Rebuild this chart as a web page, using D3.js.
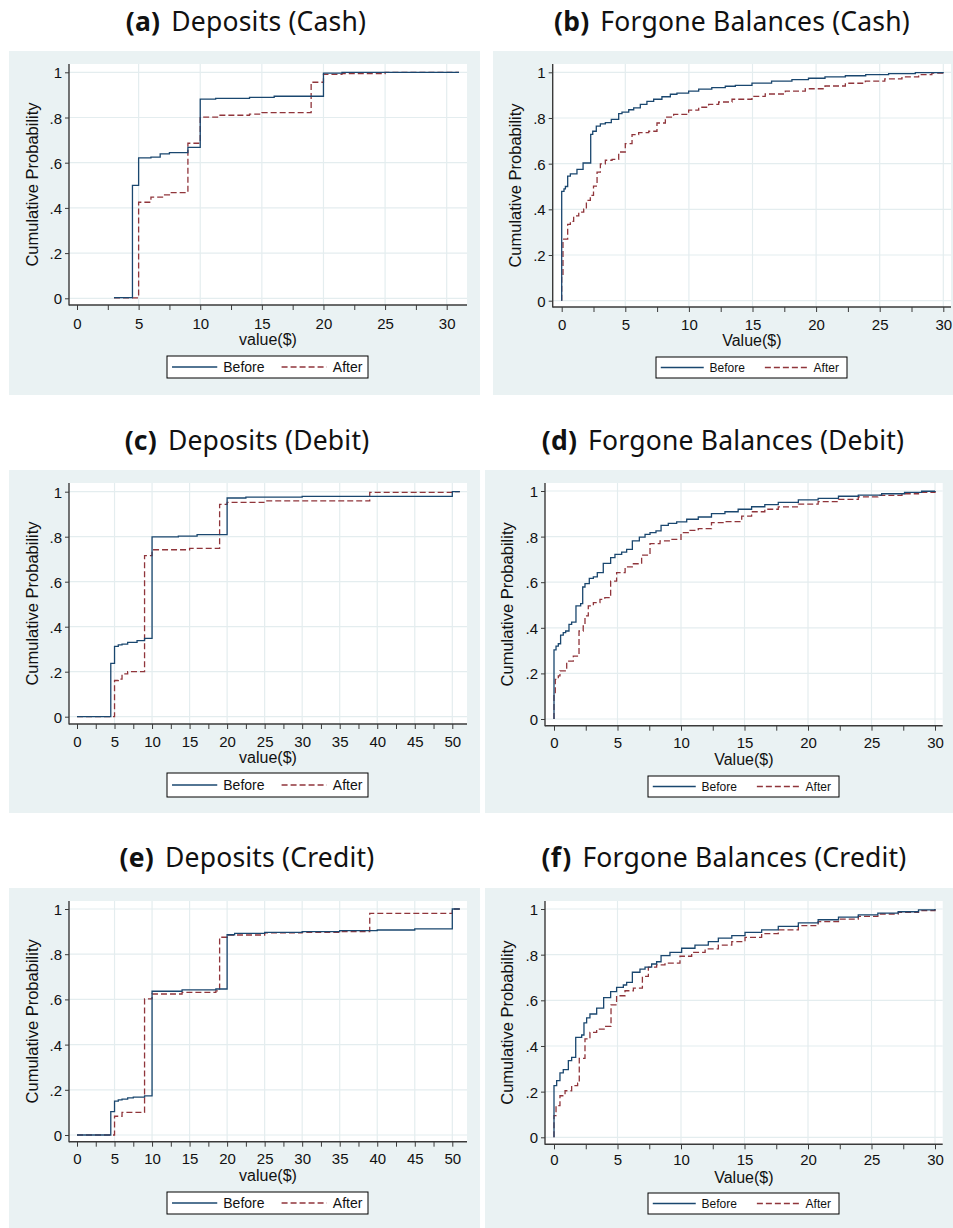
<!DOCTYPE html>
<html>
<head>
<meta charset="utf-8">
<script src="https://cdn.jsdelivr.net/npm/d3@7"></script>
<style>
  html, body { margin: 0; padding: 0; background: #ffffff; }
  svg { display: block; }
</style>
</head>
<body>
<svg id="chart" width="953" height="1228"></svg>
<script>
// ---------------- DATA ----------------
const xTicks30 = [0, 5, 10, 15, 20, 25, 30];
const xTicks50 = [0, 5, 10, 15, 20, 25, 30, 35, 40, 45, 50];
const yTicks = [0, 0.2, 0.4, 0.6, 0.8, 1];
const yTickLabels = ["0", ".2", ".4", ".6", ".8", "1"];
const seriesNames = ["Before", "After"];

// (a) Deposits (Cash)
const depCashBeforeX = [3, 4.5, 5, 6, 6.75, 7.5, 9, 10, 11.25, 14, 16, 20, 21.5, 31];
const depCashBeforeP = [0.003, 0.50, 0.621, 0.625, 0.639, 0.645, 0.668, 0.881, 0.885, 0.889, 0.894, 0.996, 1.0, 1.0];
const depCashAfterX = [3, 5, 6, 7, 7.5, 9, 10, 11.5, 14, 15, 19, 20, 21.5, 25, 31];
const depCashAfterP = [0.002, 0.425, 0.448, 0.458, 0.468, 0.686, 0.802, 0.81, 0.815, 0.822, 0.956, 0.991, 0.994, 1.0, 1.0];

// (b) Forgone Balances (Cash)
const fbCashBeforeX = [0, 0, 0.18, 0.29, 0.47, 0.68, 1.2, 1.68, 2.28, 2.44, 2.72, 3.04, 3.43, 3.9, 4.48, 4.74, 5.27, 5.66, 6.18, 6.7, 7.23, 7.88, 8.54, 9.06, 9.98, 10.77, 11.8, 12.86, 13.65, 14.96, 16.5, 18.1, 19.4, 20.7, 22.3, 23.9, 25.7, 27.8, 30];
const fbCashBeforeP = [0, 0.479, 0.49, 0.50, 0.545, 0.555, 0.575, 0.603, 0.728, 0.742, 0.764, 0.774, 0.780, 0.794, 0.819, 0.826, 0.836, 0.844, 0.860, 0.873, 0.882, 0.893, 0.904, 0.909, 0.918, 0.926, 0.933, 0.939, 0.943, 0.953, 0.961, 0.968, 0.974, 0.980, 0.985, 0.990, 0.994, 0.999, 1.0];
const fbCashAfterX = [0, 0, 0.1, 0.47, 0.68, 0.94, 1.34, 1.73, 1.94, 2.25, 2.5, 2.78, 3.04, 3.43, 3.96, 4.48, 5.0, 5.53, 6.05, 6.84, 7.49, 8.15, 8.8, 9.98, 10.77, 11.55, 12.34, 13.39, 14.96, 16, 17.58, 19.15, 20.7, 22.3, 23.87, 25.4, 26.75, 28.06, 29.1, 30];
const fbCashAfterP = [0, 0.11, 0.27, 0.334, 0.347, 0.371, 0.388, 0.401, 0.439, 0.461, 0.502, 0.563, 0.599, 0.615, 0.619, 0.651, 0.688, 0.727, 0.736, 0.742, 0.778, 0.804, 0.816, 0.834, 0.847, 0.860, 0.870, 0.882, 0.895, 0.905, 0.918, 0.928, 0.94, 0.952, 0.961, 0.971, 0.980, 0.990, 0.996, 1.0];

// (c) Deposits (Debit)
const depDebitBeforeX = [0, 4.5, 5, 5.5, 6, 6.75, 8, 9, 10, 13.5, 16, 20, 22.5, 30, 50, 51];
const depDebitBeforeP = [0, 0.237, 0.313, 0.319, 0.323, 0.330, 0.338, 0.348, 0.799, 0.803, 0.809, 0.972, 0.976, 0.979, 1.0, 1.0];
const depDebitAfterX = [0, 5, 5.5, 6, 6.75, 9, 10, 15, 19, 20, 25, 39, 50, 51];
const depDebitAfterP = [0, 0.161, 0.167, 0.19, 0.20, 0.716, 0.742, 0.748, 0.944, 0.953, 0.959, 0.997, 1.0, 1.0];

// (d) Forgone Balances (Debit)
const fbDebitBeforeX = [0, 0, 0.16, 0.34, 0.52, 0.73, 0.92, 1.18, 1.39, 1.73, 2.1, 2.26, 2.44, 2.78, 3.1, 3.41, 3.88, 4.46, 4.8, 5.33, 5.72, 6.17, 6.72, 7.17, 7.56, 8.03, 8.43, 9.0, 9.66, 10.45, 11.36, 12.4, 13.46, 14.5, 15.56, 16.6, 17.66, 19.24, 20.8, 22.4, 23.96, 25.8, 27.6, 28.95, 30];
const fbDebitBeforeP = [0, 0.303, 0.32, 0.33, 0.368, 0.379, 0.386, 0.415, 0.425, 0.496, 0.506, 0.579, 0.594, 0.617, 0.623, 0.642, 0.683, 0.708, 0.722, 0.732, 0.744, 0.781, 0.798, 0.810, 0.817, 0.825, 0.849, 0.858, 0.865, 0.876, 0.886, 0.901, 0.909, 0.92, 0.931, 0.94, 0.950, 0.961, 0.968, 0.977, 0.982, 0.988, 0.994, 0.999, 1.0];
const fbDebitAfterX = [0, 0, 0.1, 0.34, 0.47, 1.0, 1.52, 1.97, 2.3, 2.44, 2.7, 3.1, 3.62, 4.0, 4.46, 4.93, 5.6, 6.25, 6.9, 7.56, 8.35, 9.13, 10.0, 10.58, 11.36, 12.4, 13.46, 14.78, 15.56, 16.6, 17.66, 19.24, 20.8, 22.4, 23.96, 25.5, 27.4, 28.7, 30];
const fbDebitAfterP = [0, 0.11, 0.174, 0.189, 0.211, 0.254, 0.276, 0.386, 0.408, 0.452, 0.496, 0.51, 0.525, 0.532, 0.605, 0.642, 0.667, 0.681, 0.719, 0.769, 0.781, 0.788, 0.817, 0.827, 0.835, 0.861, 0.866, 0.890, 0.909, 0.92, 0.93, 0.942, 0.953, 0.963, 0.974, 0.981, 0.988, 0.994, 1.0];

// (e) Deposits (Credit)
const depCreditBeforeX = [0, 4.5, 5, 5.5, 6, 6.75, 7.5, 9, 10, 14, 18.5, 20, 21, 25, 30, 35, 40, 45, 50, 51];
const depCreditBeforeP = [0, 0.103, 0.150, 0.155, 0.159, 0.164, 0.168, 0.173, 0.636, 0.642, 0.646, 0.886, 0.892, 0.897, 0.900, 0.904, 0.907, 0.912, 1.0, 1.0];
const depCreditAfterX = [0, 5, 6, 9, 10, 14, 18.5, 19, 20, 25, 30, 35, 39, 50, 51];
const depCreditAfterP = [0, 0.083, 0.100, 0.602, 0.624, 0.631, 0.638, 0.875, 0.885, 0.894, 0.897, 0.900, 0.981, 1.0, 1.0];

// (f) Forgone Balances (Credit)
const fbCreditBeforeX = [0, 0, 0.21, 0.47, 0.73, 1.13, 1.39, 1.71, 2.18, 2.36, 2.57, 2.83, 3.36, 3.91, 4.46, 4.93, 5.46, 5.72, 6.17, 6.77, 7.17, 7.69, 8.08, 8.43, 9.13, 10.05, 11.1, 12.15, 12.94, 14, 15.04, 16.35, 17.66, 19.24, 20.8, 22.4, 23.96, 25.5, 27.1, 28.7, 30];
const fbCreditBeforeP = [0, 0.226, 0.248, 0.282, 0.296, 0.336, 0.350, 0.438, 0.448, 0.501, 0.523, 0.540, 0.566, 0.612, 0.638, 0.657, 0.667, 0.679, 0.723, 0.737, 0.745, 0.759, 0.769, 0.796, 0.810, 0.828, 0.842, 0.857, 0.872, 0.883, 0.898, 0.909, 0.924, 0.939, 0.953, 0.964, 0.974, 0.982, 0.988, 0.996, 1.0];
const fbCreditAfterX = [0, 0, 0.16, 0.47, 0.87, 1.39, 1.86, 1.99, 2.44, 2.83, 3.36, 4.0, 4.49, 4.93, 5.59, 6.25, 6.96, 7.43, 8.08, 8.74, 9.92, 10.84, 11.9, 12.94, 14, 15.04, 16.35, 17.66, 19.24, 20.8, 22.4, 23.96, 25.5, 27.1, 28.7, 30];
const fbCreditAfterP = [0, 0.095, 0.139, 0.182, 0.204, 0.226, 0.238, 0.346, 0.431, 0.460, 0.474, 0.486, 0.580, 0.620, 0.642, 0.653, 0.705, 0.745, 0.755, 0.763, 0.793, 0.810, 0.825, 0.842, 0.857, 0.876, 0.892, 0.909, 0.927, 0.945, 0.956, 0.968, 0.978, 0.985, 0.993, 1.0];

// ---------------- LAYOUT / STYLE ----------------
const COLORS = { bg: "#eaf2f3", grid: "#e4edef", axis: "#3a3a3a", before: "#1a476f", after: "#90353b" };
const TICK_FONT = "'Liberation Sans', Arial, sans-serif";
const TITLE_FONT = "'Noto Sans', 'Open Sans', sans-serif";

const panels = [
  { tag: "(a)", title: "Deposits (Cash)", xlabel: "value($)", ticks: xTicks30,
    bg: [9, 51, 480, 395], plot: [69, 64, 467, 305], xr: [77, 446.7], yr: [298.3, 72.3],
    titleX: 246, titleY: 31, ylabX: 32, xlabY: 339, tickY: 323,
    legend: [167, 356, 368, 378], legFont: 14,
    before: [depCashBeforeX, depCashBeforeP], after: [depCashAfterX, depCashAfterP] },
  { tag: "(b)", title: "Forgone Balances (Cash)", xlabel: "Value($)", ticks: xTicks30,
    bg: [493, 51, 953, 395], plot: [552.7, 64, 951, 307], xr: [561.7, 943.3], yr: [300.7, 72.3],
    titleX: 732, titleY: 31, ylabX: 515, xlabY: 340, tickY: 324,
    legend: [656, 357, 847, 378], legFont: 12,
    before: [fbCashBeforeX, fbCashBeforeP], after: [fbCashAfterX, fbCashAfterP] },
  { tag: "(c)", title: "Deposits (Debit)", xlabel: "value($)", ticks: xTicks50,
    bg: [9, 470, 480, 813], plot: [69, 483, 467, 724], xr: [77, 452.3], yr: [716.7, 491.7],
    titleX: 247, titleY: 450, ylabX: 32, xlabY: 757, tickY: 741,
    legend: [167, 773, 368, 797], legFont: 14,
    before: [depDebitBeforeX, depDebitBeforeP], after: [depDebitAfterX, depDebitAfterP] },
  { tag: "(d)", title: "Forgone Balances (Debit)", xlabel: "Value($)", ticks: xTicks30,
    bg: [485, 470, 953, 813], plot: [545, 483, 942.7, 725.7], xr: [554, 935], yr: [719, 491],
    titleX: 723, titleY: 450, ylabX: 507, xlabY: 759, tickY: 742,
    legend: [648, 776, 839, 797], legFont: 12,
    before: [fbDebitBeforeX, fbDebitBeforeP], after: [fbDebitAfterX, fbDebitAfterP] },
  { tag: "(e)", title: "Deposits (Credit)", xlabel: "value($)", ticks: xTicks50,
    bg: [9, 888, 480, 1228], plot: [69, 901, 467, 1141.7], xr: [77, 452.3], yr: [1135, 909],
    titleX: 247, titleY: 867, ylabX: 32, xlabY: 1175, tickY: 1158.5,
    legend: [167, 1192, 368, 1214], legFont: 14,
    before: [depCreditBeforeX, depCreditBeforeP], after: [depCreditAfterX, depCreditAfterP] },
  { tag: "(f)", title: "Forgone Balances (Credit)", xlabel: "Value($)", ticks: xTicks30,
    bg: [485, 888, 953, 1228], plot: [545, 901, 942.7, 1144.3], xr: [554, 935], yr: [1137.3, 909],
    titleX: 724, titleY: 867, ylabX: 507, xlabY: 1177, tickY: 1159.5,
    legend: [648, 1193, 839, 1214], legFont: 12,
    before: [fbCreditBeforeX, fbCreditBeforeP], after: [fbCreditAfterX, fbCreditAfterP] }
];

const svg = d3.select("#chart");

panels.forEach(p => {
  const g = svg.append("g");
  const [bx0, by0, bx1, by1] = p.bg;
  const [pl, pt, pr, pb] = p.plot;
  const xMax = p.ticks[p.ticks.length - 1];
  const x = d3.scaleLinear().domain([0, xMax]).range(p.xr);
  const y = d3.scaleLinear().domain([0, 1]).range(p.yr);

  // title
  const t = g.append("text")
    .attr("x", p.titleX).attr("y", p.titleY)
    .attr("text-anchor", "middle")
    .style("font-family", TITLE_FONT).style("font-size", "26.5px").style("fill", "#111")
    .style("letter-spacing", "0.2px");
  t.append("tspan").style("font-weight", "bold").text(p.tag);
  t.append("tspan").attr("dx", 11).text(p.title);

  // backgrounds
  g.append("rect").attr("x", bx0).attr("y", by0).attr("width", bx1 - bx0).attr("height", by1 - by0)
    .attr("fill", COLORS.bg);
  g.append("rect").attr("x", pl).attr("y", pt).attr("width", pr - pl).attr("height", pb - pt)
    .attr("fill", "#ffffff");

  // grid
  const majors = p.ticks;
  g.append("g").selectAll("line.hg").data(yTicks).join("line")
    .attr("x1", pl).attr("x2", pr).attr("y1", d => y(d)).attr("y2", d => y(d))
    .attr("stroke", COLORS.grid).attr("stroke-width", 1.2);
  g.append("g").selectAll("line.vg").data(majors.filter(d => d > 0)).join("line")
    .attr("x1", d => x(d)).attr("x2", d => x(d)).attr("y1", pt).attr("y2", pb)
    .attr("stroke", COLORS.grid).attr("stroke-width", 1.2);

  // x axis (ticks every 2.5, labels every 5)
  const minorTicks = d3.range(0, xMax + 0.001, 2.5);
  const xAxis = d3.axisBottom(x).tickValues(minorTicks).tickSize(5).tickPadding(3)
    .tickFormat(d => (d % 5 === 0 ? d3.format("d")(d) : ""));
  const xg = g.append("g").attr("transform", `translate(0,${pb})`).call(xAxis);
  xg.select(".domain").remove();
  xg.selectAll(".tick line").attr("stroke", COLORS.axis).attr("stroke-width", 1);
  xg.selectAll(".tick text").attr("y", null).attr("dy", null)
    .attr("transform", `translate(0,${p.tickY - pb})`)
    .attr("dominant-baseline", "central")
    .style("font-family", TICK_FONT).style("font-size", "15px").style("fill", "#111");

  // y axis
  const yAxis = d3.axisLeft(y).tickValues(yTicks).tickSize(4).tickPadding(3)
    .tickFormat((d, i) => yTickLabels[i]);
  const yg = g.append("g").attr("transform", `translate(${pl},0)`).call(yAxis);
  yg.select(".domain").remove();
  yg.selectAll(".tick line").attr("stroke", COLORS.axis).attr("stroke-width", 1);
  yg.selectAll(".tick text").attr("dy", null).attr("dominant-baseline", "central")
    .style("font-family", TICK_FONT).style("font-size", "15px").style("fill", "#111");

  // axis lines
  g.append("line").attr("x1", pl).attr("x2", pl).attr("y1", pt).attr("y2", pb + 0.5)
    .attr("stroke", COLORS.axis).attr("stroke-width", 1.4);
  g.append("line").attr("x1", pl).attr("x2", pr).attr("y1", pb).attr("y2", pb)
    .attr("stroke", COLORS.axis).attr("stroke-width", 1.4);

  // axis titles
  g.append("text").attr("x", (pl + pr) / 2).attr("y", p.xlabY)
    .attr("text-anchor", "middle").attr("dominant-baseline", "central")
    .style("font-family", TICK_FONT).style("font-size", "16px").style("fill", "#111")
    .text(p.xlabel);
  g.append("text")
    .attr("transform", `translate(${p.ylabX},${(pt + pb) / 2}) rotate(-90)`)
    .attr("text-anchor", "middle").attr("dominant-baseline", "central")
    .style("font-family", TICK_FONT).style("font-size", "16.5px").style("fill", "#111")
    .text("Cumulative Probability");

  // lines
  const line = d3.line().x(d => x(d[0])).y(d => y(d[1])).curve(d3.curveStepAfter);
  const toPts = s => s[0].map((v, i) => [v, s[1][i]]);
  g.append("path").datum(toPts(p.after)).attr("d", line)
    .attr("fill", "none").attr("stroke", COLORS.after).attr("stroke-width", 1.3)
    .attr("stroke-dasharray", "6,3");
  g.append("path").datum(toPts(p.before)).attr("d", line)
    .attr("fill", "none").attr("stroke", COLORS.before).attr("stroke-width", 1.3);

  // legend
  const [lx0, ly0, lx1, ly1] = p.legend;
  const lw = lx1 - lx0, lh = ly1 - ly0, lcy = (ly0 + ly1) / 2;
  g.append("rect").attr("x", lx0).attr("y", ly0).attr("width", lw).attr("height", lh)
    .attr("fill", "#ffffff").attr("stroke", "#000").attr("stroke-width", 1);
  const sw = lw * 0.225;
  const items = [
    { name: seriesNames[0], color: COLORS.before, dash: null, x: lx0 + lw * 0.025 },
    { name: seriesNames[1], color: COLORS.after, dash: "6,3", x: lx0 + lw * 0.57 }
  ];
  items.forEach(it => {
    g.append("line").attr("x1", it.x).attr("x2", it.x + sw).attr("y1", lcy).attr("y2", lcy)
      .attr("stroke", it.color).attr("stroke-width", 1.3)
      .attr("stroke-dasharray", it.dash);
    g.append("text").attr("x", it.x + sw + lw * 0.03).attr("y", lcy)
      .attr("dominant-baseline", "central")
      .style("font-family", TICK_FONT).style("font-size", p.legFont + "px").style("fill", "#111")
      .text(it.name);
  });
});
</script>
</body>
</html>
